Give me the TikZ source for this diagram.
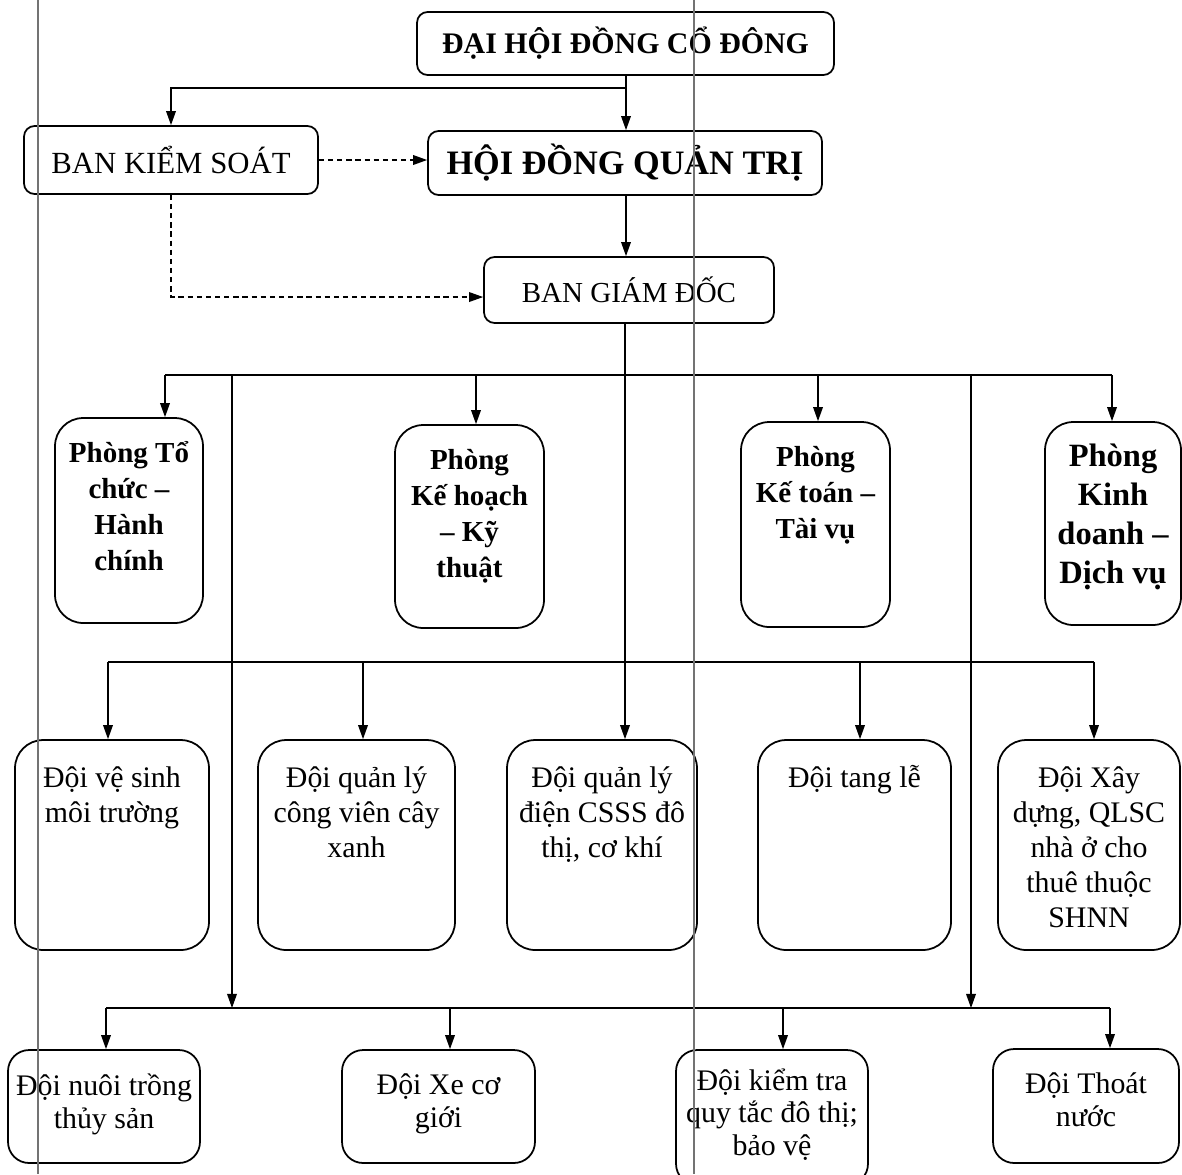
\documentclass[tikz,border=0pt]{standalone}
\usepackage{fontspec}
\setmainfont{Liberation Serif}
\usetikzlibrary{arrows.meta}

\begin{document}
\begin{tikzpicture}[
    x=0.02cm, y=-0.02cm,
    topbox/.style={draw, line width=1pt, rounded corners=6pt, fill=white, inner sep=0pt},
    unitbox/.style={draw, line width=1pt, rounded corners=16pt, fill=white, inner sep=0pt},
    teambox/.style={unitbox, rounded corners=12pt},
    dept/.style={anchor=north, align=center, inner sep=0pt, font=\bfseries\fontsize{16.5}{20.5}\selectfont},
    team/.style={anchor=north, align=center, inner sep=0pt, font=\fontsize{17}{20}\selectfont},
    conn/.style={line width=0.75pt},
    arr/.style={conn, -{Triangle[length=8pt, width=5.5pt]}},
    dasharr/.style={arr, dash pattern=on 3pt off 2.2pt},
    scanline/.style={line width=1.6pt, black!55},
]
\useasboundingbox (0,0) rectangle (1182,1174);

% Shareholders, supervisory board, board, directorate
\node[topbox, minimum width=8.34cm, minimum height=1.26cm, font=\bfseries\fontsize{17}{20}\selectfont] (dh) at (625.5,43.5) {ĐẠI HỘI ĐỒNG CỔ ĐÔNG};
\node[topbox, minimum width=5.88cm, minimum height=1.36cm, font=\fontsize{17.5}{20}\selectfont] (bks) at (171,160) {BAN KIỂM SOÁT};
\node[topbox, minimum width=7.88cm, minimum height=1.28cm, font=\bfseries\fontsize{19.5}{23}\selectfont] (hdqt) at (625,163) {HỘI ĐỒNG QUẢN TRỊ};
\node[topbox, minimum width=5.8cm, minimum height=1.32cm, font=\fontsize{16.5}{20}\selectfont] (bgd) at (629,290) {BAN GIÁM ĐỐC};

\coordinate (jdh) at (626,88);
\draw[arr] (dh.south -| jdh) -- (jdh |- hdqt.north);
\draw[arr] (jdh) -| (bks.north);
\draw[dasharr] (bks.east) -- (bks.east -| hdqt.west);
\draw[dasharr] (bks.south) |- ([yshift=-4pt]bgd.west);
\draw[arr] (hdqt.south -| jdh) -- (jdh |- bgd.north);

% Departments (Phong)
\node[unitbox, minimum width=2.96cm, minimum height=4.1cm] (p1) at (129,520.5) {};
\node[unitbox, minimum width=2.98cm, minimum height=4.06cm] (p2) at (469.5,526.5) {};
\node[unitbox, minimum width=2.98cm, minimum height=4.1cm] (p3) at (815.5,524.5) {};
\node[unitbox, minimum width=2.72cm, minimum height=4.06cm] (p4) at (1113,523.5) {};
\node[dept] (tp1) at ([yshift=-11.2pt]p1.north) {\strut Phòng Tổ\\chức –\\Hành\\chính};
\node[dept] (tp2) at ([yshift=-11.2pt]p2.north) {\strut Phòng\\Kế hoạch\\– Kỹ\\thuật};
\node[dept] (tp3) at ([yshift=-11.2pt]p3.north) {\strut Phòng\\Kế toán –\\Tài vụ};
\node[dept, font=\bfseries\fontsize{18.5}{22.3}\selectfont] (tp4) at ([yshift=-9.9pt]p4.north) {\strut Phòng\\Kinh\\doanh –\\Dịch vụ};

% Teams, first row
\node[unitbox, minimum width=3.88cm, minimum height=4.2cm] (d1) at (112,845) {};
\node[unitbox, minimum width=3.94cm, minimum height=4.2cm] (d2) at (356.5,845) {};
\node[unitbox, minimum width=3.8cm, minimum height=4.2cm] (d3) at (602,845) {};
\node[unitbox, minimum width=3.86cm, minimum height=4.2cm] (d4) at (854.5,845) {};
\node[unitbox, minimum width=3.64cm, minimum height=4.2cm] (d5) at (1089,845) {};
\node[team] (td1) at ([yshift=-13.2pt]d1.north) {\strut Đội vệ sinh\\môi trường};
\node[team] (td2) at ([yshift=-13.2pt]d2.north) {\strut Đội quản lý\\công viên cây\\xanh};
\node[team] (td3) at ([yshift=-13.2pt]d3.north) {\strut Đội quản lý\\điện CSSS đô\\thị, cơ khí};
\node[team] (td4) at ([yshift=-13.2pt]d4.north) {\strut Đội tang lễ};
\node[team] (td5) at ([yshift=-13.2pt]d5.north) {\strut Đội Xây\\dựng, QLSC\\nhà ở cho\\thuê thuộc\\SHNN};

% Teams, second row
\node[teambox, minimum width=3.84cm, minimum height=2.26cm] (e1) at (104,1106.5) {};
\node[teambox, minimum width=3.86cm, minimum height=2.26cm] (e2) at (438.5,1106.5) {};
\node[teambox, minimum width=3.84cm, minimum height=2.7cm] (e3) at (772,1117.5) {};
\node[teambox, minimum width=3.72cm, minimum height=2.28cm] (e4) at (1086,1106) {};
\node[team, font=\fontsize{17}{18.8}\selectfont] (te1) at ([yshift=-13pt]e1.north) {\strut Đội nuôi trồng\\thủy sản};
\node[team, font=\fontsize{17}{18.8}\selectfont] (te2) at ([yshift=-12.2pt]e2.north) {\strut Đội Xe cơ\\giới};
\node[team, font=\fontsize{17}{18.5}\selectfont] (te3) at ([yshift=-10.3pt]e3.north) {\strut Đội kiểm tra\\quy tắc đô thị;\\bảo vệ};
\node[team, font=\fontsize{17}{18.8}\selectfont] (te4) at ([yshift=-12.2pt]e4.north) {\strut Đội Thoát\\nước};

% Directorate down through the buses
\coordinate (jb) at (625,375);
\draw[arr] (bgd.south -| jb) -- (jb |- d3.north);

\coordinate (b1l) at (165,375);
\coordinate (b1b) at (476,375);
\coordinate (b1c) at (818,375);
\coordinate (b1r) at (1112,375);
\draw[conn] (b1l) -- (b1r);
\draw[arr] (b1l) -- (b1l |- p1.north);
\draw[arr] (b1b) -- (b1b |- p2.north);
\draw[arr] (b1c) -- (b1c |- p3.north);
\draw[arr] (b1r) -- (b1r |- p4.north);

\coordinate (b2l) at (108,662);
\coordinate (b2b) at (363,662);
\coordinate (b2c) at (860,662);
\coordinate (b2r) at (1094,662);
\draw[conn] (b2l) -- (b2r);
\draw[arr] (b2l) -- (b2l |- d1.north);
\draw[arr] (b2b) -- (b2b |- d2.north);
\draw[arr] (b2c) -- (b2c |- d4.north);
\draw[arr] (b2r) -- (b2r |- d5.north);

\coordinate (b3l) at (106,1008);
\coordinate (b3b) at (450,1008);
\coordinate (b3c) at (783,1008);
\coordinate (b3r) at (1110,1008);
\draw[conn] (b3l) -- (b3r);
\draw[arr] (b3l) -- (b3l |- e1.north);
\draw[arr] (b3b) -- (b3b |- e2.north);
\draw[arr] (b3c) -- (b3c |- e3.north);
\draw[arr] (b3r) -- (b3r |- e4.north);

% long drops from the first bus to the last one
\coordinate (v1) at (232,375);
\coordinate (v2) at (971,375);
\draw[arr] (v1) -- (v1 |- b3l);
\draw[arr] (v2) -- (v2 |- b3l);

% scan lines of the page
\draw[scanline] (38,0) -- (38,1174);
\draw[scanline, line width=1.1pt] (694,0) -- (694,1174);

\end{tikzpicture}
\end{document}
